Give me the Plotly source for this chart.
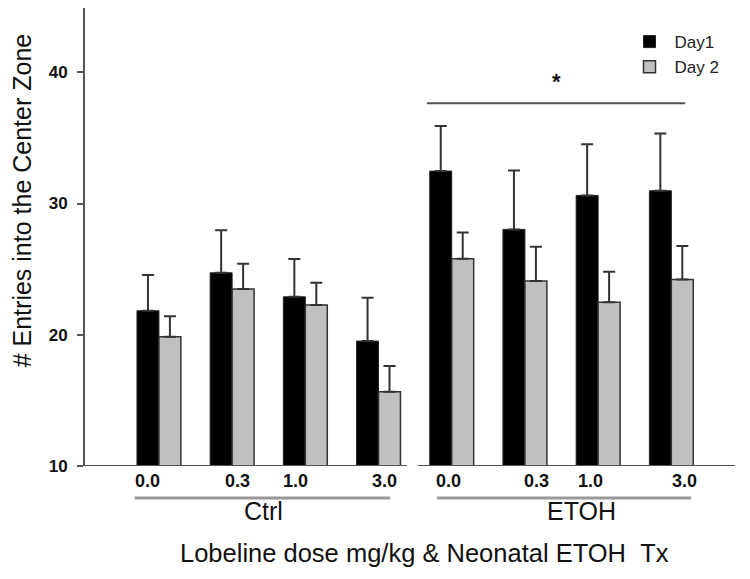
import plotly.graph_objects as go

# ---- data ----
groups = ["Ctrl", "ETOH"]
doses = ["0.0", "0.3", "1.0", "3.0"]
x_labels = doses + doses
x_pos = list(range(8))

day1_mean = [21.83, 24.72, 22.89, 19.52, 32.47, 28.03, 30.62, 30.97]
day1_sem = [2.72, 3.25, 2.88, 3.30, 3.43, 4.49, 3.90, 4.37]
day2_mean = [19.85, 23.48, 22.26, 15.66, 25.79, 24.09, 22.47, 24.22]
day2_sem = [1.57, 1.93, 1.70, 1.96, 2.01, 2.61, 2.33, 2.54]

y_ticks = [10, 20, 30, 40]

FONT = "Liberation Sans, Arial, sans-serif"
AXC = "#555555"

fig = go.Figure()
fig.add_trace(go.Bar(
    x=x_pos, y=day1_mean, name="Day1",
    marker=dict(color="#000000", line=dict(color="#222222", width=1)),
    error_y=dict(type="data", symmetric=False, array=day1_sem,
                 arrayminus=[0] * 8, color="#333333", thickness=2, width=6),
))
fig.add_trace(go.Bar(
    x=x_pos, y=day2_mean, name="Day 2",
    marker=dict(color="#c0c0c0", line=dict(color="#333333", width=1.5)),
    error_y=dict(type="data", symmetric=False, array=day2_sem,
                 arrayminus=[0] * 8, color="#333333", thickness=2, width=6),
))

# irregular dose-label offsets as in the original
label_off = [-0.16, 0.07, -0.14, 0.08, -0.05, 0.16, -0.11, 0.18]

annotations = []
for i, lab in enumerate(x_labels):
    annotations.append(dict(
        x=x_pos[i] + label_off[i], y=-0.033, xref="x", yref="paper",
        text="<b>%s</b>" % lab, showarrow=False,
        font=dict(family=FONT, size=18, color="#111111"),
        xanchor="center", yanchor="middle"))

annotations.append(dict(x=(x_pos[0] + x_pos[3]) / 2 - 0.07, y=-0.098, xref="x", yref="paper",
                        text=groups[0], showarrow=False,
                        font=dict(family=FONT, size=25, color="#111111"),
                        xanchor="center", yanchor="middle"))
annotations.append(dict(x=(x_pos[4] + x_pos[7]) / 2 + 0.27, y=-0.098, xref="x", yref="paper",
                        text=groups[1], showarrow=False,
                        font=dict(family=FONT, size=25, color="#111111"),
                        xanchor="center", yanchor="middle"))
annotations.append(dict(x=0.522, y=-0.19, xref="paper", yref="paper",
                        text="Lobeline dose mg/kg & Neonatal ETOH\u00a0\u00a0Tx",
                        showarrow=False,
                        font=dict(family=FONT, size=25.5, color="#111111"),
                        xanchor="center", yanchor="middle"))
annotations.append(dict(x=-0.097, y=0.58, xref="paper", yref="paper",
                        text="# Entries into the Center Zone", textangle=-90,
                        showarrow=False,
                        font=dict(family=FONT, size=25, color="#111111"),
                        xanchor="center", yanchor="middle"))
annotations.append(dict(x=5.43, y=39.3, xref="x", yref="y",
                        text="<b>*</b>", showarrow=False,
                        font=dict(family=FONT, size=22, color="#111111"),
                        xanchor="center", yanchor="middle"))

shapes = [
    # broken x axis
    dict(type="line", xref="paper", yref="y", x0=0, x1=0.495, y0=10, y1=10,
         line=dict(color=AXC, width=2)),
    dict(type="line", xref="paper", yref="y", x0=0.512, x1=1.0, y0=10, y1=10,
         line=dict(color=AXC, width=2)),
    # group underlines
    dict(type="line", xref="x", yref="paper", x0=x_pos[0] - 0.33, x1=x_pos[3] + 0.16,
         y0=-0.07, y1=-0.07, line=dict(color="#999999", width=3)),
    dict(type="line", xref="x", yref="paper", x0=x_pos[4] - 0.2, x1=x_pos[7] + 0.27,
         y0=-0.07, y1=-0.07, line=dict(color="#999999", width=3)),
    # significance bar
    dict(type="line", xref="x", yref="y", x0=x_pos[4] - 0.34, x1=x_pos[7] + 0.19,
         y0=37.65, y1=37.65, line=dict(color=AXC, width=2)),
]

fig.update_layout(
    width=750, height=579,
    margin=dict(l=77, r=23, t=0, b=121, autoexpand=False),
    paper_bgcolor="white", plot_bgcolor="white",
    barmode="group", bargap=0.4, bargroupgap=0,
    font=dict(family=FONT, color="#111111"),
    showlegend=True,
    legend=dict(x=0.83, y=0.965, xanchor="left", yanchor="top",
                font=dict(family=FONT, size=17, color="#222222"),
                bgcolor="rgba(0,0,0,0)", tracegroupgap=0, itemwidth=40),
    annotations=annotations,
    shapes=shapes,
)
fig.update_xaxes(range=[-1.01, 7.87], showgrid=False, zeroline=False,
                 showline=False, showticklabels=False, ticks="")
fig.update_yaxes(range=[10, 44.9], tickvals=y_ticks,
                 ticktext=["<b>%d</b>" % v for v in y_ticks],
                 showgrid=False, zeroline=False,
                 showline=True, linecolor=AXC, linewidth=2,
                 ticks="outside", ticklen=6, tickwidth=2, tickcolor=AXC,
                 tickfont=dict(family=FONT, size=17, color="#111111"),
                 ticklabelstandoff=6)

fig.write_html("out.html")
